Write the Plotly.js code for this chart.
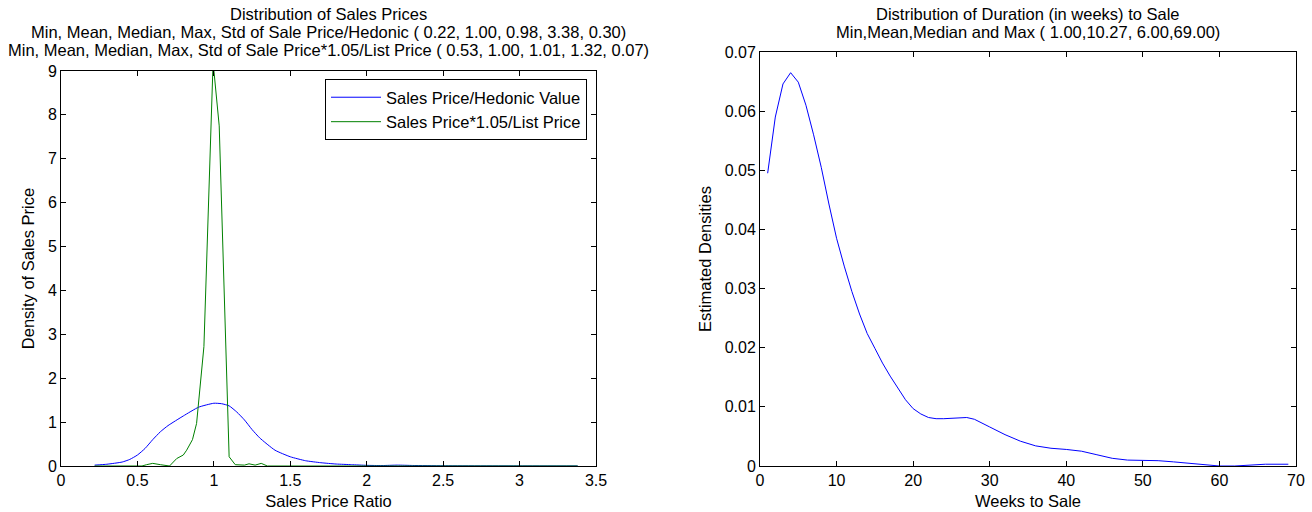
<!DOCTYPE html>
<html>
<head>
<meta charset="utf-8">
<script src="https://cdn.plot.ly/plotly-3.0.1.min.js"></script>
<style>html,body{margin:0;padding:0;background:#fff;}#chart{width:1312px;height:512px;}</style>
</head>
<body>
<div id="chart"></div>
<script>
// Left panel: Sales Price / Hedonic Value density
const ratioHedonic = [0.22,0.30,0.40,0.45,0.50,0.55,0.60,0.65,0.70,0.80,0.90,1.00,1.05,1.10,1.15,1.20,1.25,1.30,1.40,1.50,1.60,1.70,1.80,1.90,2.00,2.10,2.20,2.30,2.50,3.00,3.38];
const densHedonic  = [0.02,0.04,0.09,0.15,0.25,0.40,0.60,0.78,0.92,1.14,1.34,1.43,1.42,1.37,1.23,1.05,0.83,0.64,0.36,0.21,0.12,0.075,0.045,0.03,0.015,0.01,0.02,0.012,0.005,0.002,0.001];

// Left panel: Sales Price*1.05 / List Price density
const ratioList = [0.22,0.53,0.56,0.60,0.65,0.71,0.757,0.80,0.822,0.86,0.887,0.935,0.995,1.035,1.10,1.14,1.20,1.23,1.27,1.31,1.35,2.00,3.38];
const densList  = [0.00,0.00,0.03,0.06,0.03,0.00,0.17,0.25,0.36,0.60,0.97,2.72,9.20,7.75,0.21,0.03,0.02,0.05,0.02,0.06,0.00,0.00,0.00];

// Right panel: duration (weeks) to sale density
const weeks = [1,2,3,4,5,6,7,8,9,10,11,12,13,14,15,16,17,18,19,20,21,22,23,24,25,26,27,28,29,30,32,34,36,38,40,42,44,46,48,50,52,54,56,58,60,62,64,66,69];
const densWeeks = [0.0495,0.0590,0.0646,0.0665,0.0649,0.0610,0.0560,0.0505,0.0443,0.0385,0.0338,0.0295,0.0257,0.0224,0.0199,0.0174,0.0152,0.0131,0.0112,0.0097,0.0088,0.0082,0.0080,0.0080,0.0081,0.0082,0.0082,0.0079,0.0073,0.0066,0.0053,0.0042,0.0034,0.0030,0.0028,0.0025,0.0019,0.0013,0.0010,0.0010,0.0009,0.0007,0.0005,0.0002,0.0000,0.0000,0.0001,0.0003,0.0003];

const leftTitle = [
  "Distribution of Sales Prices",
  "Min, Mean, Median, Max, Std of Sale Price/Hedonic ( 0.22, 1.00, 0.98, 3.38, 0.30)",
  "Min, Mean, Median, Max, Std of Sale Price*1.05/List Price ( 0.53, 1.00, 1.01, 1.32, 0.07)"
];
const rightTitle = [
  "Distribution of Duration (in weeks) to Sale",
  "Min,Mean,Median and Max ( 1.00,10.27, 6.00,69.00)"
];

const FONT = "'Liberation Sans', Arial, Helvetica, sans-serif";
const W = 1312, H = 512;
const TXT = 16.5, TICK = 16;

const traces = [
  {x: ratioHedonic, y: densHedonic, type: 'scatter', mode: 'lines', name: 'Sales Price/Hedonic Value',
   line: {color: '#0000ff', width: 1, shape: 'spline', smoothing: 0.5}, xaxis: 'x', yaxis: 'y'},
  {x: ratioList, y: densList, type: 'scatter', mode: 'lines', name: 'Sales Price*1.05/List Price',
   line: {color: '#008000', width: 1}, xaxis: 'x', yaxis: 'y'},
  {x: weeks, y: densWeeks, type: 'scatter', mode: 'lines', name: 'Weeks', showlegend: false,
   line: {color: '#0000ff', width: 1}, xaxis: 'x2', yaxis: 'y2'}
];

function ax(extra) {
  return Object.assign({
    showgrid: false, zeroline: false, showline: true, linecolor: '#000', linewidth: 1,
    mirror: 'ticks', ticks: 'inside', ticklen: 5, tickcolor: '#000', tickwidth: 1,
    tickfont: {family: FONT, size: TICK, color: '#000'}, fixedrange: true
  }, extra);
}

const annotations = [];
leftTitle.forEach((t, i) => annotations.push({
  text: t, xref: 'paper', yref: 'paper', x: 328.5 / W, y: 1 - (14 + 18 * i) / H,
  xanchor: 'center', yanchor: 'middle', showarrow: false, font: {family: FONT, size: TXT, color: '#000'}
}));
rightTitle.forEach((t, i) => annotations.push({
  text: t, xref: 'paper', yref: 'paper', x: 1028 / W, y: 1 - (14 + 18 * i) / H,
  xanchor: 'center', yanchor: 'middle', showarrow: false, font: {family: FONT, size: TXT, color: '#000'}
}));

const titleFont = {family: FONT, size: TXT, color: '#000'};

const layout = {
  width: W, height: H,
  margin: {l: 0, r: 0, t: 0, b: 0},
  paper_bgcolor: '#fff', plot_bgcolor: '#fff',
  showlegend: true,
  font: {family: FONT, size: TXT, color: '#000'},
  xaxis: ax({domain: [61 / W, 596 / W], range: [0, 3.5], dtick: 0.5, tick0: 0, anchor: 'y',
    title: {text: 'Sales Price Ratio', font: titleFont, standoff: 7}}),
  yaxis: ax({domain: [1 - 466 / H, 1 - 71 / H], range: [0, 9], dtick: 1, tick0: 0, anchor: 'x',
    title: {text: 'Density of Sales Price', font: titleFont, standoff: 9}}),
  xaxis2: ax({domain: [760 / W, 1296 / W], range: [0, 70], dtick: 10, tick0: 0, anchor: 'y2',
    title: {text: 'Weeks to Sale', font: titleFont, standoff: 7}}),
  yaxis2: ax({domain: [1 - 466 / H, 1 - 52 / H], range: [0, 0.07], dtick: 0.01, tick0: 0, anchor: 'x2',
    title: {text: 'Estimated Densities', font: titleFont, standoff: 8}}),
  legend: {x: 587 / W, y: 1 - 79 / H, xanchor: 'right', yanchor: 'top', bgcolor: '#fff',
    bordercolor: '#000', borderwidth: 1, font: {family: FONT, size: TXT, color: '#000'},
    itemwidth: 50, tracegroupgap: 0},
  annotations: annotations
};

Plotly.newPlot('chart', traces, layout, {staticPlot: true, displayModeBar: false});
</script>
</body>
</html>
